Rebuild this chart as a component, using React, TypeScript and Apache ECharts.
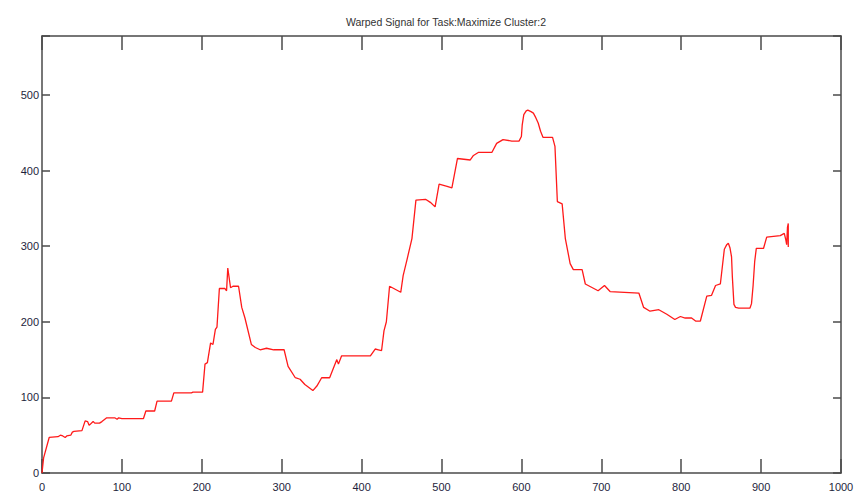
import React, { useEffect, useRef } from "react";
import * as echarts from "echarts";

const titleText = "Warped Signal for Task:Maximize Cluster:2";

const xTicks = [0, 100, 200, 300, 400, 500, 600, 700, 800, 900, 1000];
const yTicks = [0, 100, 200, 300, 400, 500];

const sampleX = [
  0, 2, 9, 20, 23, 26, 29, 31, 36, 38, 40, 50, 54, 57, 59, 64, 66, 72, 75, 81,
  91, 94, 96, 100, 127, 130, 141, 144, 162, 165, 187, 189, 201, 204, 207, 211, 214, 217, 219, 222,
  229, 231, 232.5, 236, 239, 246, 250, 254, 262, 267, 273, 281, 290, 303, 308, 317, 323, 329, 339, 344,
  350, 360, 369, 371, 375, 411, 417, 421, 425, 428, 431, 435, 449, 452, 457, 463, 468, 480, 486, 492,
  497, 507, 513, 520, 536, 540, 546, 563, 569, 577, 588, 597, 600, 601, 603, 606, 608, 612, 615, 618,
  621, 624, 627, 639, 642, 645, 651, 655, 661, 665, 676, 680, 696, 704, 711, 747, 753, 761, 772, 782,
  792, 799, 805, 813, 818, 824, 832, 838, 843, 849, 854, 857, 859, 861, 863, 864, 866, 868, 872, 886,
  888, 890, 892, 894, 903, 907, 924, 929, 931, 932, 933, 934, 934,
];

const sampleY = [
  0, 20, 47, 48, 50, 49, 47, 49, 50, 54, 55, 56, 69, 68, 63, 68, 66, 66, 68, 73,
  73, 71, 73, 72, 72, 82, 82, 95, 95, 106, 106, 107, 107, 144, 146, 172, 170, 190, 193, 244,
  244, 241, 271, 245, 247, 247, 219, 205, 170, 166, 163, 165, 163, 163, 141, 126, 124, 117, 109, 115,
  126, 126, 150, 144, 155, 155, 164, 163, 162, 188, 200, 247, 239, 261, 283, 310, 361, 362, 358, 352,
  382, 379, 377, 416, 414, 420, 424, 424, 436, 441, 439, 439, 445, 460, 474, 479, 480, 478, 476, 470,
  463, 452, 444, 444, 432, 359, 356, 310, 277, 269, 269, 250, 241, 248, 240, 238, 219, 214, 216, 210,
  203, 207, 205, 205, 201, 201, 234, 235, 248, 250, 296, 302, 304, 298, 286, 260, 223, 219, 218, 218,
  224, 248, 280, 297, 297, 312, 314, 317, 308, 302, 325, 330, 299,
];

const X_MIN = 0;
const X_MAX = 1000;
const Y_MIN = 0;
const Y_MAX = 578;

export default function App() {
  const ref = useRef<HTMLDivElement>(null);

  useEffect(() => {
    if (!ref.current) return;
    const chart = echarts.init(ref.current, undefined, { renderer: "svg" });
    const data = sampleX.map((x, i) => [x, sampleY[i]]);
    const labelFont = "'Liberation Sans Narrow', 'Liberation Sans', Arial, sans-serif";
    const axisLineStyle = { color: "#4a4a4a", width: 1.5 };
    const labelColor = "#1e1e3c";

    chart.setOption({
      animation: false,
      backgroundColor: "#ffffff",
      title: {
        text: titleText,
        left: 441,
        textAlign: "center",
        top: 11,
        textStyle: {
          fontFamily: labelFont,
          fontSize: 10.5,
          fontWeight: "normal",
          color: "#333333",
        },
      },
      grid: { left: 42, right: 21, top: 36, bottom: 28, containLabel: false },
      xAxis: [
        {
          type: "value",
          min: X_MIN,
          max: X_MAX,
          interval: 100,
          position: "bottom",
          splitLine: { show: false },
          axisLine: { show: true, onZero: false, lineStyle: axisLineStyle },
          axisTick: { show: true, inside: true, length: 14, lineStyle: axisLineStyle },
          axisLabel: {
            show: true,
            margin: 8,
            color: labelColor,
            fontFamily: labelFont,
            fontSize: 11,
            formatter: (v: number) => (xTicks.includes(v) ? String(v) : ""),
          },
        },
        {
          type: "value",
          min: X_MIN,
          max: X_MAX,
          interval: 100,
          position: "top",
          splitLine: { show: false },
          axisLine: { show: true, onZero: false, lineStyle: axisLineStyle },
          axisTick: { show: true, inside: true, length: 14, lineStyle: axisLineStyle },
          axisLabel: { show: false },
        },
      ],
      yAxis: [
        {
          type: "value",
          min: Y_MIN,
          max: Y_MAX,
          interval: 100,
          position: "left",
          splitLine: { show: false },
          axisLine: { show: true, onZero: false, lineStyle: axisLineStyle },
          axisTick: { show: true, inside: true, length: 8, lineStyle: axisLineStyle },
          axisLabel: {
            show: true,
            margin: 3,
            color: labelColor,
            fontFamily: labelFont,
            fontSize: 11,
            formatter: (v: number) => (yTicks.includes(v) ? String(v) : ""),
          },
        },
        {
          type: "value",
          min: Y_MIN,
          max: Y_MAX,
          interval: 100,
          position: "right",
          splitLine: { show: false },
          axisLine: { show: true, onZero: false, lineStyle: axisLineStyle },
          axisTick: { show: true, inside: true, length: 8, lineStyle: axisLineStyle },
          axisLabel: { show: false },
        },
      ],
      series: [
        {
          type: "line",
          xAxisIndex: 0,
          yAxisIndex: 0,
          data,
          showSymbol: false,
          symbol: "none",
          lineStyle: { color: "#ff1a1a", width: 1.3 },
          emphasis: { disabled: true },
        },
      ],
    });

    return () => chart.dispose();
  }, []);

  return (
    <div
      ref={ref}
      style={{ position: "fixed", left: 0, top: 0, width: 862, height: 501, background: "#fff" }}
    />
  );
}
